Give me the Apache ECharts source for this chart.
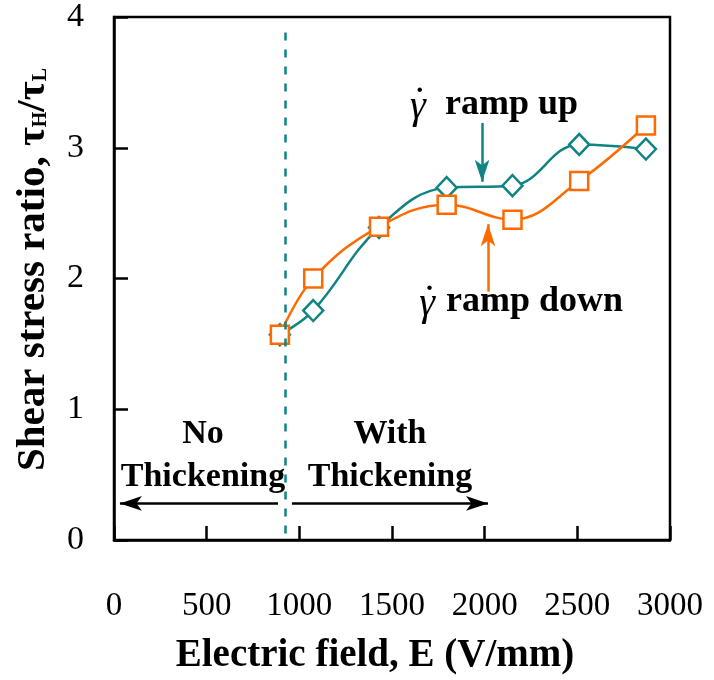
<!DOCTYPE html>
<html style="height: 100%">
<head>
<meta charset="UTF-8">
<title>Shear stress ratio</title>
<script src="https://cdn.jsdelivr.net/npm/echarts@6/dist/echarts.min.js"></script>
</head>
<body style="height: 100%; margin: 0; background: #fff">
<div id="chart" style="width: 714px; height: 680px"></div>
<script type="text/javascript">
// electric field values (V/mm) and stress ratios
var fieldE = [895, 1075, 1430, 1795, 2150, 2510, 2870];
var rampUp = [1.57, 1.755, 2.39, 2.695, 2.71, 3.025, 2.99];
var rampDown = [1.57, 2.0, 2.395, 2.565, 2.45, 2.745, 3.17];
var xTicks = [0, 500, 1000, 1500, 2000, 2500, 3000];
var yTicks = [0, 1, 2, 3, 4];

// annotations, in data coordinates
var onsetE = 923;
var arrowY = 0.28;

var teal = '#0f8482';
var orange = '#ff6a00';
var serif = '"Liberation Serif", "Times New Roman", serif';

function pairs(xs, ys) {
	var out = [];
	for (var i = 0; i < xs.length; i++) out.push([xs[i], ys[i]]);
	return out;
}

// a plain text label sitting at a data coordinate
function note(x, y, text, style) {
	return {
		coord: [x, y],
		label: Object.assign({
			show: true, position: 'inside', formatter: text,
			fontFamily: serif, color: '#000'
		}, style)
	};
}

var bold = { fontSize: 36, fontWeight: 'bold', align: 'left' };
var gamma = { fontSize: 40, fontStyle: 'italic', align: 'center' };
var dot = { fontSize: 30, fontWeight: 'bold', align: 'center' };
var region = { fontSize: 34, fontWeight: 'bold', align: 'center', lineHeight: 43 };

var arrowEnd = { symbol: 'arrow', symbolSize: [11, 22] };

var dom = document.getElementById('chart');
var myChart = echarts.init(dom);
var option = {
	animation: false,
	textStyle: { fontFamily: serif },
	grid: {
		left: 114, right: 44, top: 17, bottom: 138,
		show: true, borderColor: '#000', borderWidth: 2.5
	},
	xAxis: {
		type: 'value',
		min: xTicks[0], max: xTicks[xTicks.length - 1], interval: 500,
		name: 'Electric field, E (V/mm)',
		nameLocation: 'middle', nameGap: 96,
		nameTextStyle: { fontSize: 39, fontWeight: 'bold', color: '#000', fontFamily: serif, padding: [0, 34, 0, 0] },
		axisLine: { lineStyle: { color: '#000', width: 2.5 } },
		axisTick: { inside: true, length: 14, lineStyle: { color: '#000', width: 2.5 } },
		axisLabel: {
			fontSize: 33, color: '#000', margin: 50, fontFamily: serif,
			formatter: function (v) { return String(v); }
		},
		splitLine: { show: false }
	},
	yAxis: {
		type: 'value',
		min: yTicks[0], max: yTicks[yTicks.length - 1], interval: 1,
		name: '{b|Shear stress ratio, τ}{s|H}{b|/τ}{s|L}',
		nameLocation: 'middle', nameGap: 60, nameRotate: 90,
		nameTextStyle: {
			color: '#000', fontFamily: serif, padding: [0, 0, 0, 18],
			rich: {
				b: { fontSize: 41, fontWeight: 'bold', fontFamily: serif, color: '#000' },
				s: { fontSize: 20, fontWeight: 'bold', fontFamily: serif, color: '#000', verticalAlign: 'bottom', padding: [0, 0, 3, 0] }
			}
		},
		axisLine: { lineStyle: { color: '#000', width: 2.5 } },
		axisTick: { inside: true, length: 14, lineStyle: { color: '#000', width: 2.5 } },
		axisLabel: { fontSize: 34, color: '#000', margin: 30, fontFamily: serif },
		splitLine: { show: false }
	},
	series: [{
		name: 'ramp up',
		type: 'line',
		data: pairs(fieldE, rampUp),
		smooth: 0.4,
		symbol: 'diamond',
		symbolSize: [20, 21],
		itemStyle: { color: '#fff', borderColor: teal, borderWidth: 2.5 },
		lineStyle: { color: teal, width: 2.5 },
		z: 3,
		markLine: {
			silent: true,
			symbol: 'none',
			label: { show: false },
			data: [
				// onset of thickening
				[{ coord: [onsetE, 0.05], lineStyle: { color: teal, width: 2.5, type: [8, 9] } },
				 { coord: [onsetE, 3.94] }],
				// arrow pointing at the ramp up curve
				[{ coord: [1986, 3.19], lineStyle: { color: teal, width: 2.5, type: 'solid' } },
				 Object.assign({ coord: [1986, 2.74] }, arrowEnd)]
			]
		},
		markPoint: {
			silent: true,
			symbolSize: 0,
			data: [
				note(1640, 3.31, 'γ', gamma),
				note(1650, 3.36, '˙', dot),
				note(1786, 3.33, 'ramp up', bold)
			]
		}
	}, {
		name: 'ramp down',
		type: 'line',
		data: pairs(fieldE, rampDown),
		smooth: 0.4,
		symbol: 'rect',
		symbolSize: 18,
		itemStyle: { color: '#fff', borderColor: orange, borderWidth: 2.5 },
		lineStyle: { color: orange, width: 2.5 },
		z: 4,
		markLine: {
			silent: true,
			symbol: 'none',
			label: { show: false },
			data: [
				[{ coord: [2018, 1.90], lineStyle: { color: orange, width: 2.5, type: 'solid' } },
				 Object.assign({ coord: [2018, 2.415] }, arrowEnd)],
				// thickening region arrows
				[{ coord: [885, arrowY], lineStyle: { color: '#000', width: 2.5, type: 'solid' } },
				 Object.assign({ coord: [32, arrowY] }, arrowEnd)],
				[{ coord: [960, arrowY], lineStyle: { color: '#000', width: 2.5, type: 'solid' } },
				 Object.assign({ coord: [2018, arrowY] }, arrowEnd)]
			]
		},
		markPoint: {
			silent: true,
			symbolSize: 0,
			data: [
				note(1689, 1.80, 'γ', gamma),
				note(1702, 1.85, '˙', dot),
				note(1791, 1.82, 'ramp down', bold),
				note(480, 0.645, 'No\nThickening', region),
				note(1489, 0.645, 'With\nThickening', region)
			]
		}
	}]
};
myChart.setOption(option);
</script>
</body>
</html>
